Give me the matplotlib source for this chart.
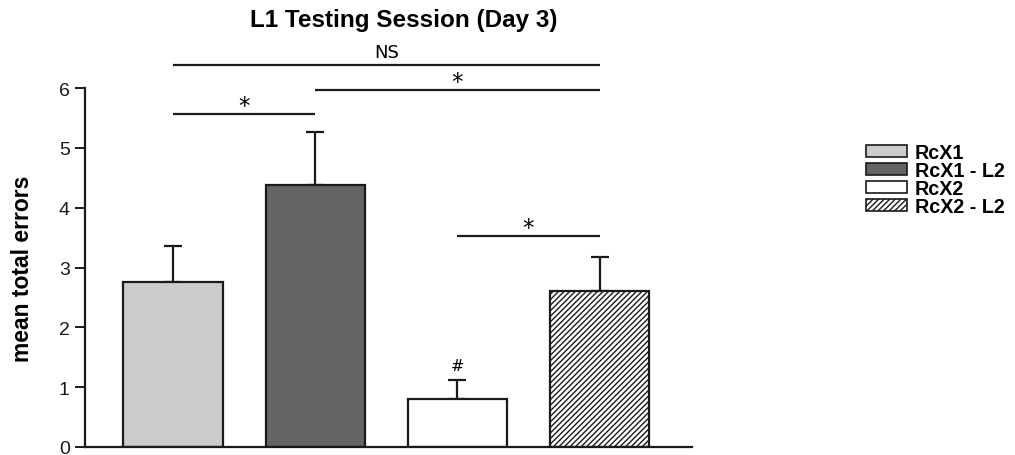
import matplotlib
matplotlib.use("Agg")
import matplotlib.pyplot as plt
from matplotlib.patches import Patch

# Group data
groups = ["RcX1", "RcX1 - L2", "RcX2", "RcX2 - L2"]
means = [2.76, 4.38, 0.80, 2.61]
sems = [0.60, 0.89, 0.32, 0.57]
fills = ["#cccccc", "#646464", "#ffffff", "#ffffff"]
hatches = [None, None, None, "//////"]

# Significance brackets: (left group, right group, height, label)
brackets = [
    (0, 3, 6.39, "NS"),
    (1, 3, 5.97, "*"),
    (0, 1, 5.57, "*"),
    (2, 3, 3.53, "*"),
]
marker_group = 2
marker_text = "#"

plt.rcParams["font.family"] = ["Liberation Sans", "DejaVu Sans"]
plt.rcParams["hatch.linewidth"] = 1.0

fig = plt.figure(figsize=(10.15, 4.56), dpi=100)
ax = fig.add_axes([85 / 1015, 1 - 448 / 456, (692 - 85) / 1015, (448 - 89) / 456])

x = list(range(len(groups)))
for xi, m, s, c, h in zip(x, means, sems, fills, hatches):
    ax.bar(xi, m, width=0.70, color=c, edgecolor="#1a1a1a", linewidth=1.6,
           hatch=h, zorder=2)
    ax.errorbar(xi, m, yerr=[[0], [s]], fmt="none", ecolor="#1a1a1a",
                elinewidth=1.6, capsize=6.5, capthick=1.6, zorder=1)

ax.set_xlim(-0.62, 3.65)
ax.set_ylim(0, 6)
ax.set_yticks(range(7))
ax.set_xticks([])
ax.tick_params(axis="y", direction="out", length=7, width=1.4, labelsize=14,
               color="#1a1a1a", labelcolor="#1a1a1a", pad=4)
for side in ("top", "right"):
    ax.spines[side].set_visible(False)
for side in ("left", "bottom"):
    ax.spines[side].set_linewidth(1.6)
    ax.spines[side].set_color("#1a1a1a")

ax.set_ylabel("mean total errors", fontsize=16.5, fontweight="bold", labelpad=18)
fig.text(404 / 1015, 1 - 20 / 456, "L1 Testing Session (Day 3)", ha="center",
         va="center", fontsize=17.5, fontweight="bold")

for a, b, h, lab in brackets:
    ax.plot([a, b], [h, h], color="#1a1a1a", lw=1.6, clip_on=False,
            solid_capstyle="butt")
    if lab == "*":
        ax.text((a + b) / 2, h - 0.06, lab, ha="center", va="bottom",
                fontsize=16.5, family="DejaVu Sans", clip_on=False)
    else:
        ax.text((a + b) / 2, h + 0.06, lab, ha="center", va="bottom",
                fontsize=13, family="DejaVu Sans", clip_on=False)

ax.text(marker_group, means[marker_group] + sems[marker_group] + 0.12,
        marker_text, ha="center", va="bottom", fontsize=11.5,
        family="DejaVu Sans")

handles = [Patch(facecolor=c, edgecolor="#1a1a1a", linewidth=1.2, hatch=h)
           for c, h in zip(fills, hatches)]
leg = fig.legend(handles, groups, loc="upper left",
                 bbox_to_anchor=(848 / 1015, 1 - 126 / 456),
                 frameon=False, handlelength=2.1, handleheight=0.6,
                 handletextpad=0.4, labelspacing=-0.05,
                 prop={"size": 14.2, "weight": "bold"})

fig.savefig("out.png", dpi=100)
